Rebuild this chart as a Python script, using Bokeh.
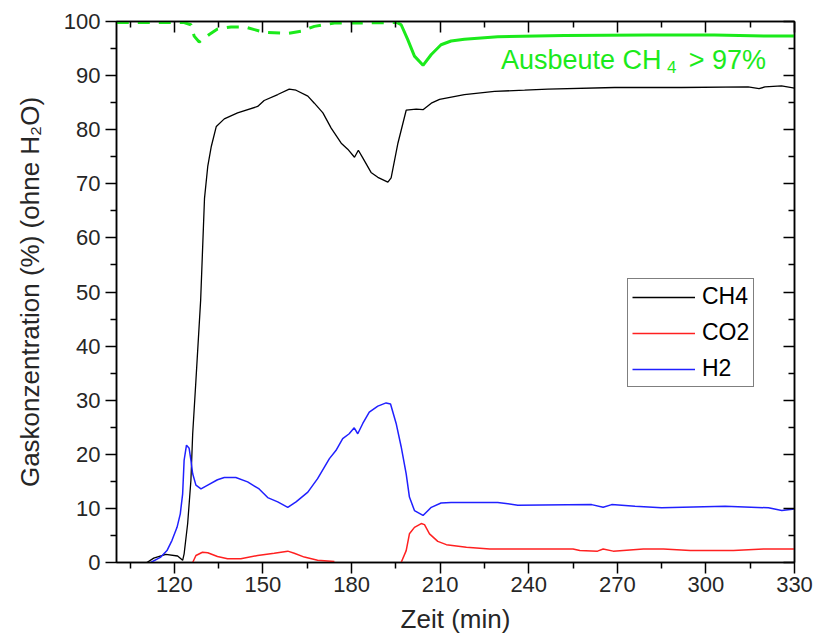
import numpy as np
from bokeh.plotting import figure
from bokeh.models import Range1d, LinearAxis, FixedTicker, Legend, LegendItem, Label
from bokeh.embed import file_html
from bokeh.resources import INLINE

# ---------------- data ----------------
ch4_t = [110.7, 113, 117.1, 121.1, 122.8, 123.3, 124.5, 125.6, 126.2, 127.3, 128.9, 130.2, 131.3,
         132.5, 134.2, 136.9, 141.4, 148.2, 150.4, 155, 158.9, 161.2, 165.2, 167.4, 170.3, 173.1,
         176.5, 178.7, 181, 182.3, 183.8, 186.6, 188.9, 192.3, 193.4, 195.7, 198.5, 201.9, 204.2,
         207, 209.8, 218.2, 228.4, 238.6, 246.5, 269.1, 291.7, 314.3, 318, 320, 325.6, 330]
ch4 = [0, 0.8, 1.5, 1.2, 0.4, 1.6, 7.2, 15.2, 23.8, 33.7, 48.5, 67.3, 73.2,
       76.9, 80.6, 82.0, 83.1, 84.3, 85.4, 86.5, 87.5, 87.3, 86.2, 84.9, 83.1, 80.3,
       77.5, 76.4, 74.9, 76.2, 74.8, 72.1, 71.2, 70.3, 71.1, 77.5, 83.6, 83.8, 83.7,
       84.9, 85.6, 86.5, 87.1, 87.3, 87.5, 87.8, 87.8, 87.9, 87.6, 87.9, 88.1, 87.7]

co2_t = [126.2, 127.3, 129.5, 131.3, 134.6, 138, 142.5, 148.2, 153.8, 158.4, 160.6, 164, 168.5,
         174.2, np.nan, 196.8, 198.5, 199.6, 201.3, 203.6, 204.7, 206.4, 209.2, 212.1, 218.9,
         226.8, 255, 257.3, 263.3, 265.2, 268.6, 278.8, 285.6, 294.7, 309.3, 319.5, 330]
co2 = [0, 1.3, 1.9, 1.8, 1.1, 0.7, 0.7, 1.3, 1.7, 2.1, 1.7, 1.0, 0.4,
       0.2, np.nan, 0, 2.2, 5.3, 6.5, 7.2, 7.0, 5.3, 3.9, 3.3, 2.8,
       2.5, 2.5, 2.2, 2.1, 2.5, 2.1, 2.5, 2.5, 2.2, 2.2, 2.5, 2.5]

h2_t = [112, 115.4, 117.5, 119.2, 120.9, 122, 122.8, 123.3, 124.1, 125, 125.6, 126.2, 127.3, 129,
        131.3, 134.6, 136.9, 140.8, 144.8, 148.7, 151.6, 155, 158.4, 161.2, 165.2, 168.5, 172.5,
        174.7, 177, 179.2, 180.9, 182.1, 183.8, 186, 188.9, 191.7, 193.2, 195.1, 196.8, 198.5,
        199.6, 201.3, 204.2, 207, 210.3, 213.7, 229.5, 236.3, 261.3, 265.2, 268.1, 276, 285,
        306.5, 321.2, 325.7, 330]
h2 = [0, 1, 2.2, 4.1, 6.5, 9, 12.7, 18.9, 21.7, 21.1, 18.9, 16.4, 14.3, 13.6,
      14.3, 15.3, 15.7, 15.7, 14.9, 13.6, 12.0, 11.2, 10.2, 11.2, 13.0, 15.5, 19.2,
      20.7, 22.9, 23.8, 24.9, 23.8, 25.7, 27.8, 28.9, 29.5, 29.3, 25.7, 21.4, 16.4,
      12.1, 9.6, 8.7, 10.2, 11.0, 11.1, 11.1, 10.6, 10.7, 10.2, 10.7, 10.4, 10.1,
      10.4, 10.1, 9.6, 9.9]

# yield (Ausbeute): dashed part, then solid part
yield_dash_t = [100.5, 123.3, 125.6, 126.7, 128.4, 131.8, 134.6, 139.2, 143.7, 147.1, 150.5,
                158.4, 162.9, 167.4, 174.2, 195.5]
yield_dash = [99.8, 99.8, 99.4, 97.3, 96.2, 97.6, 98.6, 99.0, 99.0, 98.5, 98.0,
              97.8, 98.2, 99.1, 99.7, 99.8]
yield_solid_t = [195.5, 196.8, 199, 201.3, 204.2, 207, 210.3, 213.7, 218.2, 229.5, 252.1,
                 280.3, 302.9, 319.9, 330]
yield_solid = [99.8, 99.4, 96.7, 93.6, 91.9, 93.9, 95.7, 96.4, 96.7, 97.2, 97.4,
               97.5, 97.5, 97.3, 97.3]

x_major = [120, 150, 180, 210, 240, 270, 300, 330]
x_minor = [105, 135, 165, 195, 225, 255, 285, 315]
y_major = [0, 10, 20, 30, 40, 50, 60, 70, 80, 90, 100]
y_minor = [5, 15, 25, 35, 45, 55, 65, 75, 85, 95]

FONT = "Liberation Sans"
TXT = "#262626"
GREEN = "#1BEA1B"

p = figure(width=814, height=636, output_backend="svg", toolbar_location=None,
           x_range=Range1d(100.4, 330), y_range=Range1d(0, 100),
           min_border_left=116, min_border_right=20, min_border_top=21, min_border_bottom=74)
p.xgrid.visible = False
p.ygrid.visible = False
p.outline_line_color = "black"
p.outline_line_width = 1.5
p.background_fill_color = "white"
p.border_fill_color = "white"

def style_axis(ax, ticks, minors, outer=True, labels=True):
    ax.ticker = FixedTicker(ticks=ticks, minor_ticks=minors)
    ax.axis_line_color = "black"
    ax.axis_line_width = 1.5
    ax.major_tick_line_color = "black"
    ax.minor_tick_line_color = "black"
    ax.major_tick_line_width = 1.5
    ax.minor_tick_line_width = 1.5
    if outer:
        ax.major_tick_out, ax.major_tick_in = 11, 0
        ax.minor_tick_out, ax.minor_tick_in = 6, 0
    else:
        ax.major_tick_out, ax.major_tick_in = 0, 11
        ax.minor_tick_out, ax.minor_tick_in = 0, 6
    if labels:
        ax.major_label_text_font = FONT
        ax.major_label_text_font_size = "22px"
        ax.major_label_text_color = TXT
        ax.axis_label_text_font = FONT
        ax.axis_label_text_font_size = "26px"
        ax.axis_label_text_font_style = "normal"
        ax.axis_label_text_color = TXT
    else:
        ax.major_label_text_font_size = "1px"
        ax.major_label_text_color = None
        ax.major_label_standoff = 0

style_axis(p.xaxis[0], x_major, x_minor)
style_axis(p.yaxis[0], y_major, y_minor)
p.xaxis.axis_label = "Zeit (min)"
p.yaxis.axis_label = "Gaskonzentration (%) (ohne H\u2082O)"
p.xaxis.major_label_standoff = 3
p.xaxis.axis_label_standoff = 9
p.yaxis.major_label_standoff = 5
p.yaxis.axis_label_standoff = 16

top = LinearAxis()
style_axis(top, x_major, x_minor, outer=False, labels=False)
p.add_layout(top, "above")
right = LinearAxis()
style_axis(right, y_major, y_minor, outer=False, labels=False)
p.add_layout(right, "right")

r_ch4 = p.line(ch4_t, ch4, line_color="black", line_width=1.3)
r_co2 = p.line(co2_t, co2, line_color="#FF2020", line_width=1.5)
r_h2 = p.line(h2_t, h2, line_color="#2020FF", line_width=1.5)
p.line(yield_dash_t, yield_dash, line_color=GREEN, line_width=3, line_dash="12 9")
p.line(yield_solid_t, yield_solid, line_color=GREEN, line_width=3)

legend = Legend(items=[LegendItem(label="CH4", renderers=[r_ch4]),
                       LegendItem(label="CO2", renderers=[r_co2]),
                       LegendItem(label="H2", renderers=[r_h2])],
                location=(511, 175))
legend.border_line_color = "black"
legend.border_line_width = 1.5
legend.background_fill_color = "white"
legend.background_fill_alpha = 1
legend.label_text_font = FONT
legend.label_text_font_size = "23px"
legend.label_text_color = "black"
legend.padding = 4
legend.spacing = 9
legend.glyph_width = 63
legend.glyph_height = 22
legend.label_height = 22
legend.label_standoff = 7
legend.margin = 0
p.add_layout(legend, "center")

ann_kw = dict(text_font=FONT, text_color=GREEN, text_baseline="alphabetic")
p.add_layout(Label(x=230.6, y=92.9, text="Ausbeute CH", text_font_size="27px", **ann_kw))
p.add_layout(Label(x=286.8, y=91.5, text="4", text_font_size="17px", **ann_kw))
p.add_layout(Label(x=294.2, y=92.9, text="> 97%", text_font_size="27px", **ann_kw))

open("out.html", "w").write(file_html(p, INLINE))
